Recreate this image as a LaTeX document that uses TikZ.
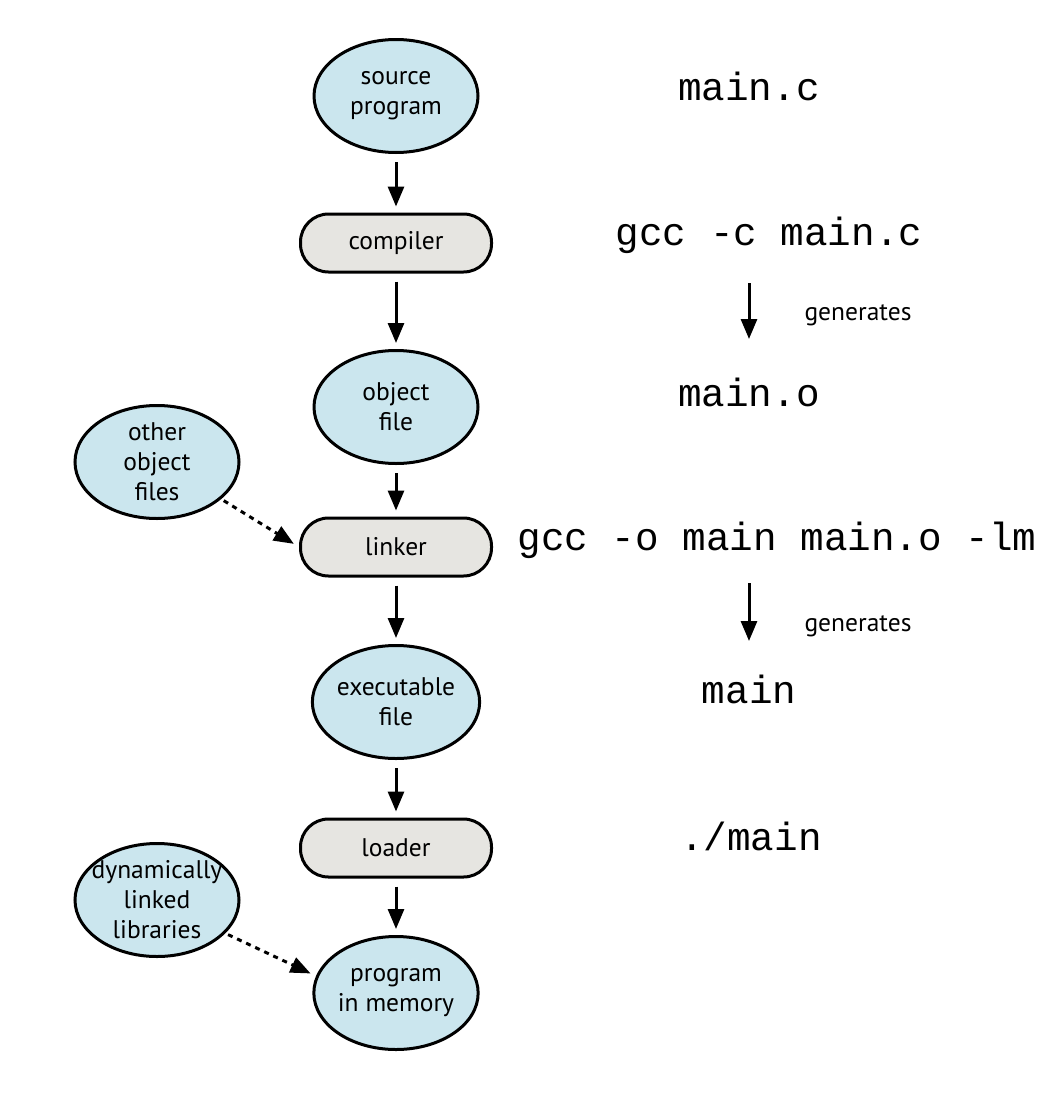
\documentclass[tikz,border=0pt]{standalone}
\usepackage{fontspec}
\setmainfont{PT Sans}
\newfontfamily\codefont{Liberation Mono}
\usetikzlibrary{shapes.geometric,arrows.meta}
\definecolor{eblue}{RGB}{203,230,238}
\definecolor{bgray}{RGB}{230,229,225}
\begin{document}
\begin{tikzpicture}[x=1pt,y=-1pt,
  lbl/.style={font=\fontsize{25.5}{30}\selectfont, align=center},
  oval/.style={ellipse, draw=black, line width=3pt, fill=eblue, minimum width=164pt, minimum height=113pt, inner sep=0pt, lbl},
  pill/.style={rectangle, rounded corners=28pt, draw=black, line width=3pt, fill=bgray, minimum width=191pt, minimum height=58pt, inner sep=0pt, lbl},
  arr/.style={line width=3pt, -{Triangle[length=20pt,width=16pt]}, shorten <=8pt, shorten >=6pt},
  darr/.style={line width=3pt, dash pattern=on 5pt off 5pt, -{Triangle[length=20pt,width=16pt]}, shorten <=3pt, shorten >=6pt},
  code/.style={font=\codefont\fontsize{39.3}{41}\selectfont, anchor=base, inner sep=0pt},
  gen/.style={font=\fontsize{25.5}{30}\selectfont, anchor=base, inner sep=0pt}
]
\useasboundingbox (0,0) rectangle (1064,1100);
% left column
\node[oval] (src) at (396,96) {source\\program};
\node[pill] (comp) at (396,243) {compiler};
\node[oval] (obj) at (396,407) {object\\file};
\node[oval] (oof) at (157,462) {other\\object\\files};
\node[pill] (link) at (396,547) {linker};
\node[oval] (exe) at (396,702) {executable\\file};
\node[pill] (load) at (396,848) {loader};
\node[oval, inner xsep=-30pt, inner ysep=-10pt] (dll) at (157,900) {dynamically\\linked\\libraries};
\node[oval] (prog) at (396,993) {program\\in memory};

\draw[arr] (src) -- (comp);
\draw[arr] (comp) -- (obj);
\draw[arr] (obj) -- (link);
\draw[arr] (link) -- (exe);
\draw[arr] (exe) -- (load);
\draw[arr] (load) -- (prog);
\draw[darr] (oof.-30) -- (link.west);
\draw[darr] (dll.-26) -- (prog.168);

% right column
\node[code] (t1) at (749,100) {main.c};
\node[code] (t2) at (769,245) {gcc -c main.c};
\coordinate (g1a) at (749,283);
\coordinate (g1b) at (749,339);
\draw[line width=3pt, -{Triangle[length=20pt,width=16pt]}] (g1a) -- (g1b);
\node[gen] (g1) at (858,320) {generates};
\node[code] (t3) at (749,406) {main.o};
\node[code] (t4) at (777,550) {gcc -o main main.o -lm};
\coordinate (g2a) at (749,583);
\coordinate (g2b) at (749,641);
\draw[line width=3pt, -{Triangle[length=20pt,width=16pt]}] (g2a) -- (g2b);
\node[gen] (g2) at (858,631) {generates};
\node[code] (t5) at (749,703) {main};
\node[code] (t6) at (751,850) {./main};
\end{tikzpicture}
\end{document}
